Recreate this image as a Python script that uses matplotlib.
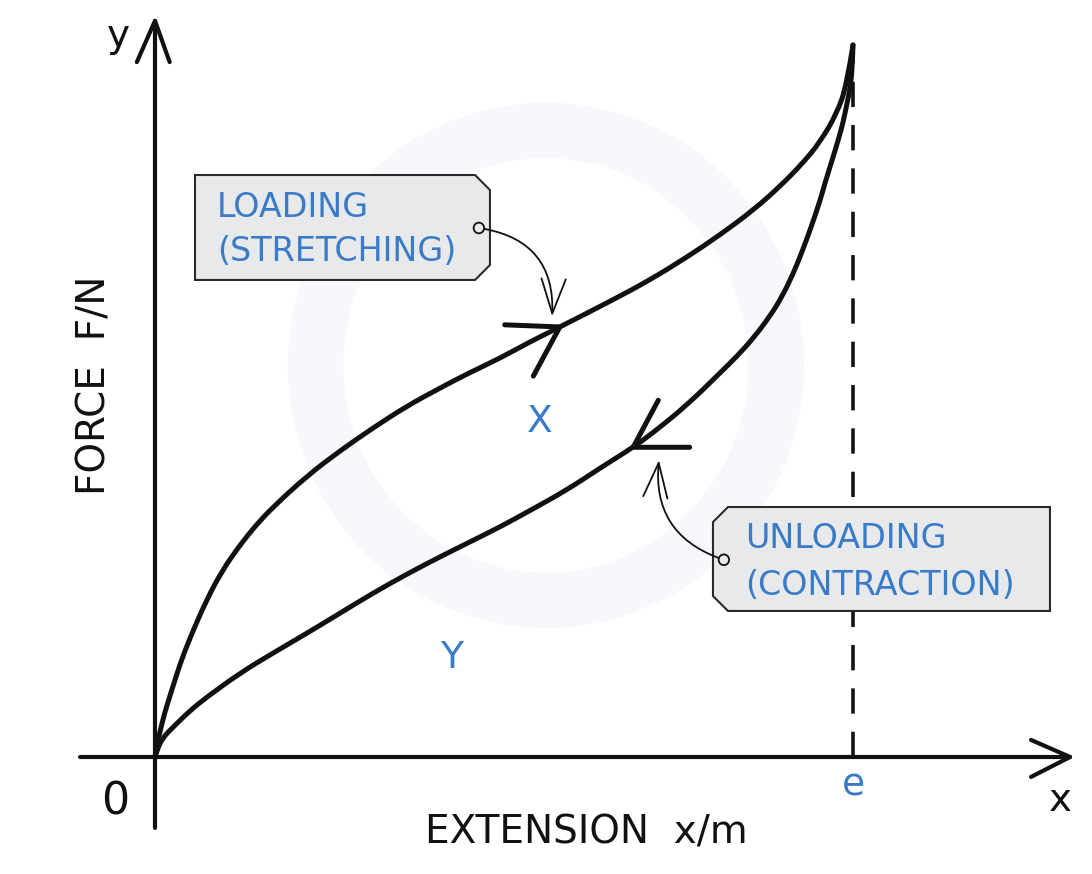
"""Hysteresis loop sketch: force vs extension for loading and unloading."""

import matplotlib
matplotlib.use("Agg")
import matplotlib.pyplot as plt
from matplotlib.path import Path
from matplotlib.patches import Polygon, Circle, FancyArrowPatch, PathPatch

# extension in units of e, force in units of the peak force
load_x = [0.0, 0.003, 0.007, 0.014, 0.026, 0.036, 0.050, 0.074, 0.097, 0.122,
          0.145, 0.169, 0.218, 0.265, 0.312, 0.361, 0.408, 0.447, 0.494,
          0.537, 0.580, 0.656, 0.709, 0.762, 0.809, 0.857, 0.895, 0.928,
          0.953, 0.977, 0.991, 1.0]
load_y = [0.0, 0.017, 0.035, 0.063, 0.100, 0.131, 0.167, 0.221, 0.263, 0.298,
          0.326, 0.351, 0.395, 0.430, 0.462, 0.493, 0.518, 0.538, 0.560,
          0.583, 0.604, 0.642, 0.670, 0.702, 0.733, 0.768, 0.801, 0.834,
          0.864, 0.904, 0.944, 1.0]

unload_x = [1.0, 0.999, 0.996, 0.991, 0.986, 0.979, 0.970, 0.961, 0.953,
            0.941, 0.928, 0.914, 0.898, 0.881, 0.857, 0.834, 0.809, 0.762,
            0.713, 0.685, 0.638, 0.590, 0.537, 0.494, 0.451, 0.408, 0.361,
            0.312, 0.265, 0.218, 0.169, 0.122, 0.074, 0.050, 0.026, 0.011,
            0.003, 0.0]
unload_y = [1.0, 0.968, 0.940, 0.916, 0.892, 0.867, 0.838, 0.810, 0.782,
            0.747, 0.712, 0.678, 0.646, 0.619, 0.588, 0.563, 0.539, 0.494,
            0.455, 0.435, 0.406, 0.375, 0.346, 0.323, 0.302, 0.281, 0.257,
            0.230, 0.202, 0.174, 0.146, 0.118, 0.084, 0.065, 0.042, 0.027,
            0.010, 0.0]

# direction arrowheads drawn on the curves (arm, tip, arm)
load_head_x = [0.501, 0.580, 0.542]
load_head_y = [0.607, 0.604, 0.535]
unload_head_x = [0.766, 0.685, 0.721]
unload_head_y = [0.435, 0.435, 0.501]

E_VALUE = 1.0
BLUE = "#3a7bc8"
INK = "#111111"


def smooth_path(xs, ys):
    # quadratic curve through the read points (points act as controls, midpoints on the curve)
    pts = list(zip(xs, ys))
    verts = [pts[0]]
    codes = [Path.MOVETO]
    for i in range(1, len(pts) - 1):
        if i < len(pts) - 2:
            end = ((pts[i][0] + pts[i + 1][0]) / 2, (pts[i][1] + pts[i + 1][1]) / 2)
        else:
            end = pts[i + 1]
        verts += [pts[i], end]
        codes += [Path.CURVE3, Path.CURVE3]
    return Path(verts, codes)


fig = plt.figure(figsize=(10.92, 8.74), dpi=100)
ax = fig.add_axes([0, 0, 1, 1])
ax.set_xlim(-155 / 698, 937 / 698)
ax.set_ylim(-117 / 712, 757 / 712)
ax.axis("off")

# faint watermark ring
ax.add_patch(Circle((0.56, 0.55), 0.33, fill=False, lw=40, ec="#f7f8fb", zorder=0))

# axes with open arrowheads
ax.plot([0, 0], [-0.100, 1.034], color=INK, lw=3, solid_capstyle="round")
ax.plot([-0.026, 0, 0.021], [0.976, 1.034, 0.976], color=INK, lw=3,
        solid_capstyle="round", solid_joinstyle="round")
ax.plot([-0.107, 1.311], [0, 0], color=INK, lw=3, solid_capstyle="round")
ax.plot([1.255, 1.311, 1.255], [0.024, 0, -0.028], color=INK, lw=3,
        solid_capstyle="round", solid_joinstyle="round")

# dashed line at e
ax.plot([E_VALUE, E_VALUE], [0, 1.0], color=INK, lw=2.6, dashes=(7, 5))

# loop
for xs, ys in ((load_x, load_y), (unload_x, unload_y)):
    ax.add_patch(PathPatch(smooth_path(xs, ys), fill=False, ec=INK, lw=3.6,
                           capstyle="round", joinstyle="round"))
ax.plot(load_head_x, load_head_y, color=INK, lw=3.6, solid_capstyle="round", solid_joinstyle="miter")
ax.plot(unload_head_x, unload_head_y, color=INK, lw=3.6, solid_capstyle="round", solid_joinstyle="miter")

# tag boxes
tag_load = [(0.0573, 0.8174), (0.4585, 0.8174), (0.4799, 0.7963),
            (0.4799, 0.691), (0.4585, 0.670), (0.0573, 0.670)]
tag_unload = [(0.8209, 0.3511), (1.2822, 0.3511), (1.2822, 0.2051),
              (0.8209, 0.2051), (0.7994, 0.2261), (0.7994, 0.330)]
for pts in (tag_load, tag_unload):
    ax.add_patch(Polygon(pts, closed=True, fc="#e7e9ea", ec="#2a2a2a", lw=1.5, zorder=3))

ax.add_patch(Circle((0.464, 0.743), 0.0075, fc="#e7e9ea", ec=INK, lw=1.3, zorder=5))
ax.add_patch(Circle((0.815, 0.277), 0.0075, fc="#e7e9ea", ec=INK, lw=1.3, zorder=5))

arrow_kw = dict(arrowstyle="->,head_length=10,head_width=3.5", color=INK, lw=1.3,
                shrinkA=4, shrinkB=0, mutation_scale=2.5, zorder=4)
ax.add_patch(FancyArrowPatch((0.464, 0.743), (0.569, 0.619),
                             connectionstyle="arc3,rad=-0.45", **arrow_kw))
ax.add_patch(FancyArrowPatch((0.815, 0.277), (0.722, 0.417),
                             connectionstyle="arc3,rad=-0.4", **arrow_kw))

ax.text(0.0888, 0.758, "LOADING", color=BLUE, fontsize=24, va="baseline", zorder=6)
ax.text(0.0888, 0.696, "(STRETCHING)", color=BLUE, fontsize=24, va="baseline", zorder=6)
ax.text(0.845, 0.293, "UNLOADING", color=BLUE, fontsize=24, va="baseline", zorder=6)
ax.text(0.845, 0.228, "(CONTRACTION)", color=BLUE, fontsize=24, va="baseline", zorder=6)

ax.text(0.5516, 0.4705, "X", color=BLUE, fontsize=27, ha="center", va="center")
ax.text(0.4255, 0.139, "Y", color=BLUE, fontsize=27, ha="center", va="center")
ax.text(E_VALUE, -0.040, "e", color=BLUE, fontsize=27, ha="center", va="center")

ax.text(-0.086, 0.5225, "FORCE  F/N", color=INK, fontsize=28, rotation=90,
        ha="center", va="center")
ax.text(0.6175, -0.1067, "EXTENSION  x/m", color=INK, fontsize=28,
        ha="center", va="center")
ax.text(-0.053, 1.012, "y", color=INK, fontsize=28, ha="center", va="center")
ax.text(1.2966, -0.060, "x", color=INK, fontsize=28, ha="center", va="center")
ax.text(-0.0573, -0.063, "0", color=INK, fontsize=32, ha="center", va="center")

fig.savefig("out.png", dpi=100)
